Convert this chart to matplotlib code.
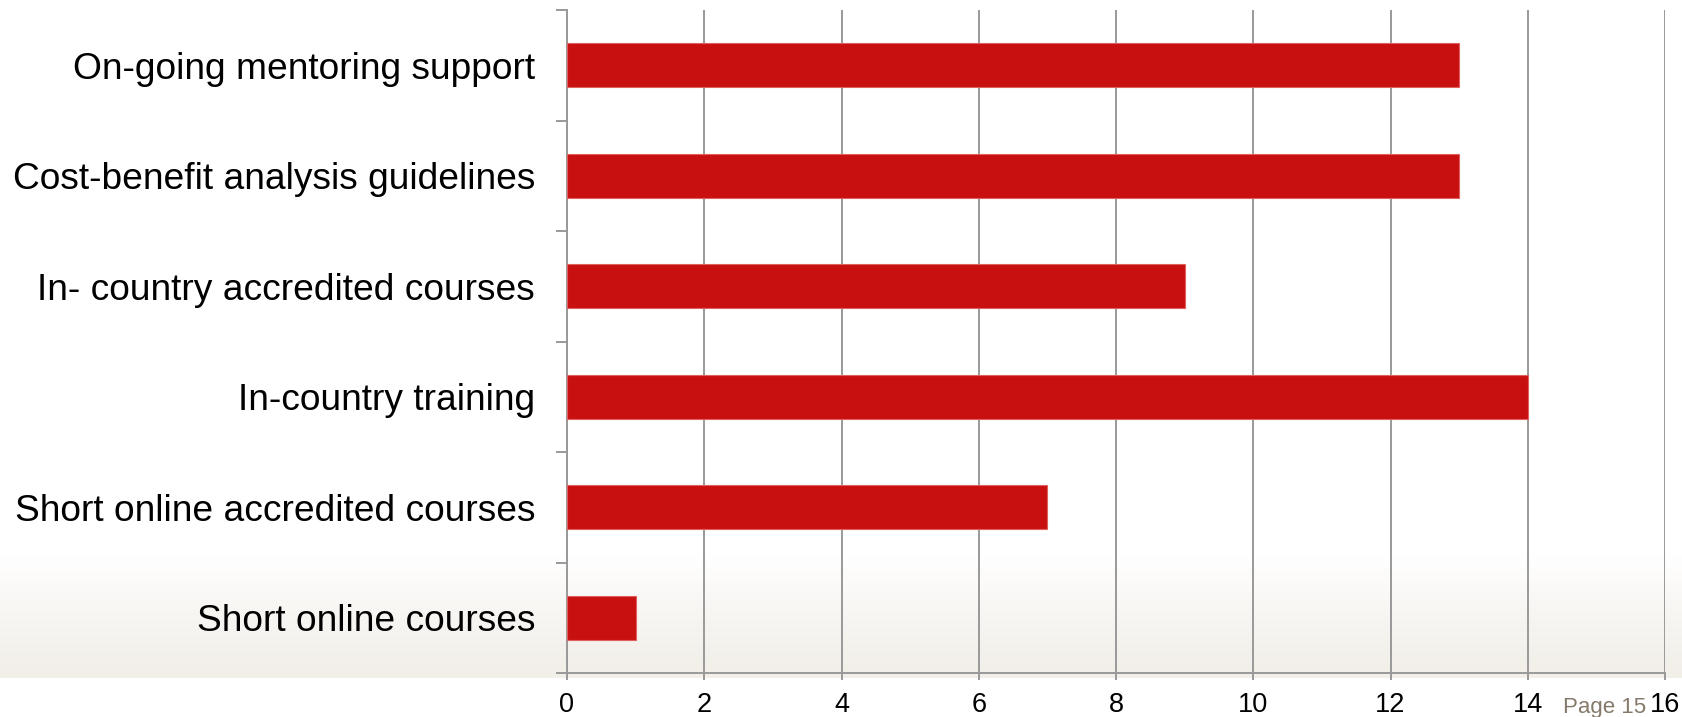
import matplotlib
matplotlib.use("Agg")
import matplotlib.pyplot as plt
import numpy as np

categories = ["Short online courses", "Short online accredited courses", "In-country training",
              "In- country accredited courses", "Cost-benefit analysis guidelines", "On-going mentoring support"]
values = [1, 7, 14, 9, 13, 13]
xticks = [0, 2, 4, 6, 8, 10, 12, 14, 16]

plt.rcParams['font.family'] = ['Liberation Sans', 'DejaVu Sans']

fig = plt.figure(figsize=(16.83, 7.17), dpi=100)
fig.patch.set_facecolor("white")

# slide background gradient near the bottom
bg = fig.add_axes([0, 1 - 678/717, 1, (678 - 555)/717], zorder=-10)
grad = np.linspace(0, 1, 256).reshape(-1, 1) ** 1.3
c_top = np.array([1.0, 1.0, 1.0])
c_bot = np.array([0xf2, 0xef, 0xe9]) / 255
img = c_top[None, None, :] * (grad[:, :, None]) + c_bot[None, None, :] * (1 - grad[:, :, None])
bg.imshow(img, aspect='auto', origin='lower', extent=[0, 1, 0, 1])
bg.set_axis_off()

ax = fig.add_axes([567/1683, 1 - 673/717, (1665 - 567)/1683, (673 - 10)/717])
ax.patch.set_alpha(0)

y = np.arange(len(categories))
ax.barh(y, values, height=0.4, color="#c81010", edgecolor="#e06060", linewidth=0.8, zorder=3)

ax.set_xlim(0, 16)
ax.set_ylim(-0.5, len(categories) - 0.5)
ax.set_xticks(xticks)
ax.set_xticklabels([str(t) for t in xticks], fontsize=19.5)
ax.set_yticks(y)
ax.set_yticklabels(categories, fontsize=26.7)
ax.set_yticks(np.arange(-0.5, len(categories), 1), minor=True)

ax.grid(axis='x', color="#999999", linewidth=1.4, zorder=1)
ax.tick_params(axis='y', which='major', length=0, pad=23)
ax.tick_params(axis='y', which='minor', length=8.0, width=1.4, color="#999999", direction='out')
ax.tick_params(axis='x', which='major', length=5, width=1.4, color="#999999", direction='out', pad=9)

for s in ['top', 'right']:
    ax.spines[s].set_visible(False)
for s in ['left', 'bottom']:
    ax.spines[s].set_color("#999999")
    ax.spines[s].set_linewidth(1.4)

fig.text(1563/1683, 1 - 713/717, "Page 15", fontsize=16, color="#857a6a",
         family=['Liberation Sans', 'DejaVu Sans'], ha='left', va='baseline')

fig.savefig("out.png", dpi=100, facecolor="white")
